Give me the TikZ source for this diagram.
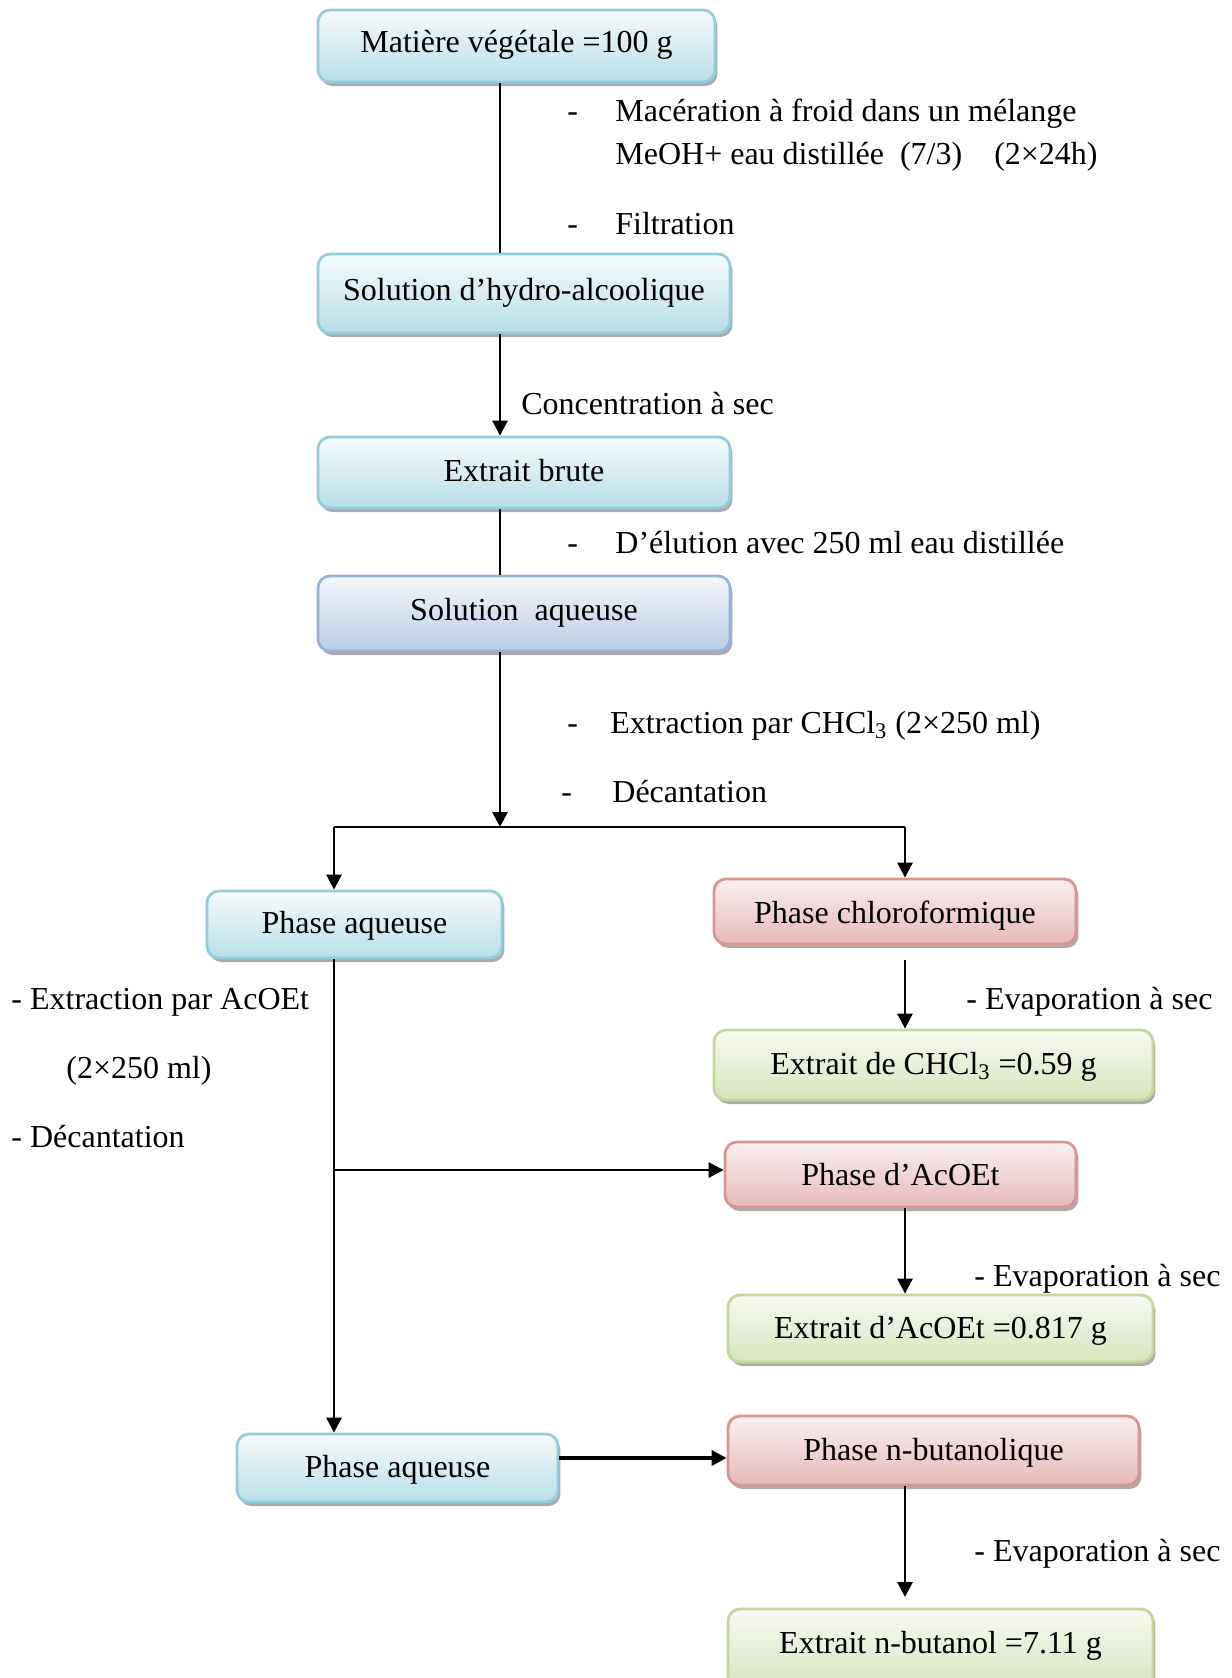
\documentclass[tikz,border=0pt]{standalone}
\usepackage{fontspec}
\setmainfont{Liberation Serif}
\usetikzlibrary{shadows,arrows.meta}
\definecolor{bluebd}{HTML}{93CDDD}
\definecolor{bluetop}{HTML}{F6FBFC}
\definecolor{bluebot}{HTML}{B7DEE8}
\definecolor{lavbd}{HTML}{95B3D7}
\definecolor{lavtop}{HTML}{F4F7FB}
\definecolor{lavbot}{HTML}{B9CDE5}
\definecolor{redbd}{HTML}{D99594}
\definecolor{redtop}{HTML}{FAF0F0}
\definecolor{redbot}{HTML}{E6B9B8}
\definecolor{grnbd}{HTML}{C3D69B}
\definecolor{grntop}{HTML}{F7FAF1}
\definecolor{grnbot}{HTML}{D7E4BD}
\tikzset{
  boxbase/.style={draw, line width=1.4pt, rounded corners=6pt, inner sep=0pt,
    drop shadow={shadow xshift=1.2pt, shadow yshift=-2pt, fill=black!55, opacity=0.6},
    font=\fontsize{16}{19}\selectfont, text depth=4pt},
  th/.style={text height=#1pt},
  bluebox/.style={boxbase, draw=bluebd, top color=bluetop, bottom color=bluebot},
  lavbox/.style={boxbase, draw=lavbd, top color=lavtop, bottom color=lavbot},
  redbox/.style={boxbase, draw=redbd, top color=redtop, bottom color=redbot},
  grnbox/.style={boxbase, draw=grnbd, top color=grntop, bottom color=grnbot},
  conn/.style={line width=1.4pt},
  arr/.style={conn, -{Triangle[length=7.5pt,width=7.5pt]}},
  lbl/.style={anchor=west, inner sep=0pt, font=\fontsize{16}{19}\selectfont,
    text height=11pt, text depth=0.3pt},
}
\begin{document}
\begin{tikzpicture}[x=0.5pt, y=-0.5pt]
\useasboundingbox (0,0) rectangle (1232,1678);
% boxes
\node[bluebox, th=10.8, minimum width=198.5pt, minimum height=36pt] (b1) at (516.5,46) {Matière végétale =100 g};
\node[bluebox, th=10.5, minimum width=206pt, minimum height=39.5pt] (b2) at (524,293.5) {Solution d’hydro-alcoolique};
\node[bluebox, th=12.8, minimum width=206pt, minimum height=35.5pt] (b3) at (524,472.5) {Extrait brute};
\node[lavbox, th=11.2, minimum width=206pt, minimum height=37.5pt] (b4) at (524,613.5) {Solution\ \ aqueuse};
\node[bluebox, th=13, minimum width=147.5pt, minimum height=33.5pt] (b5) at (354.5,924.5) {Phase aqueuse};
\node[redbox, th=15.5, minimum width=181pt, minimum height=32.5pt] (b6) at (895,911.5) {Phase chloroformique};
\node[grnbox, th=13.2, minimum width=219.5pt, minimum height=35pt] (b7) at (933.5,1065) {Extrait de CHCl\textsubscript{3} =0.59 g};
\node[redbox, th=15, minimum width=175.5pt, minimum height=32.5pt] (b8) at (900.5,1174.5) {Phase d’AcOEt};
\node[grnbox, th=13.6, minimum width=212.5pt, minimum height=33.5pt] (b9) at (940.5,1328.5) {Extrait d’AcOEt =0.817 g};
\node[bluebox, th=13, minimum width=160.5pt, minimum height=34pt] (b10) at (397.5,1468) {Phase aqueuse};
\node[redbox, th=13.6, minimum width=205.5pt, minimum height=34.5pt] (b11) at (933.5,1450.5) {Phase n-butanolique};
\node[grnbox, th=8.5, minimum width=212.5pt, minimum height=40pt] (b12) at (940.5,1649) {Extrait n-butanol =7.11 g};
% guide coordinates
\coordinate (xm) at (500,0);
\coordinate (xl) at (334,0);
\coordinate (xr) at (905,0);
\coordinate (j1) at (500,827);
\coordinate (jl) at (334,827);
\coordinate (jr) at (905,827);
\coordinate (br) at (334,1170);
\coordinate (s6) at (905,960);
\coordinate (t12) at (905,1597);
% connectors
\draw[conn] (b1.south -| xm) -- (b2.north -| xm);
\draw[arr] (b2.south -| xm) -- (b3.north -| xm);
\draw[conn] (b3.south -| xm) -- (b4.north -| xm);
\draw[arr] (b4.south -| xm) -- (j1);
\draw[conn] (jl) -- (jr);
\draw[arr] (jl) -- (b5.north -| jl);
\draw[arr] (jr) -- (b6.north -| jr);
\draw[arr] (s6) -- (b7.north -| xr);
\draw[arr] (b5.south -| xl) -- (b10.north -| xl);
\draw[arr] (br) -- (br -| b8.west);
\draw[arr] (b8.south -| xr) -- (b9.north -| xr);
\draw[arr, line width=1.8pt] (b10.east |- 0,1458) -- (b11.west |- 0,1458);
\draw[arr] (b11.south -| xr) -- (t12);
% labels
\node[lbl] (d1) at (567,111) {-};
\node[lbl] (l1) at (615,111) {Macération à froid dans un mélange};
\node[lbl] (l2) at (615,154) {MeOH+ eau distillée\ \ (7/3)\quad (2×24h)};
\node[lbl] (d2) at (567,224) {-};
\node[lbl] (l3) at (615,224) {Filtration};
\node[lbl] (l4) at (521,404) {Concentration à sec};
\node[lbl] (d3) at (567,543) {-};
\node[lbl] (l5) at (615,543) {D’élution avec 250 ml eau distillée};
\node[lbl] (d4) at (567,723) {-};
\node[lbl] (l6) at (610,723) {Extraction par CHCl\textsubscript{3} (2×250 ml)};
\node[lbl] (d5) at (561,792) {-};
\node[lbl] (l7) at (612,792) {Décantation};
\node[lbl] (l8) at (966,999) {- Evaporation à sec};
\node[lbl] (l9) at (11,999) {- Extraction par AcOEt};
\node[lbl] (l10) at (66,1068) {(2×250 ml)};
\node[lbl] (l11) at (11,1137) {- Décantation};
\node[lbl] (l12) at (974,1276) {- Evaporation à sec};
\node[lbl] (l13) at (974,1551) {- Evaporation à sec};
\end{tikzpicture}
\end{document}
